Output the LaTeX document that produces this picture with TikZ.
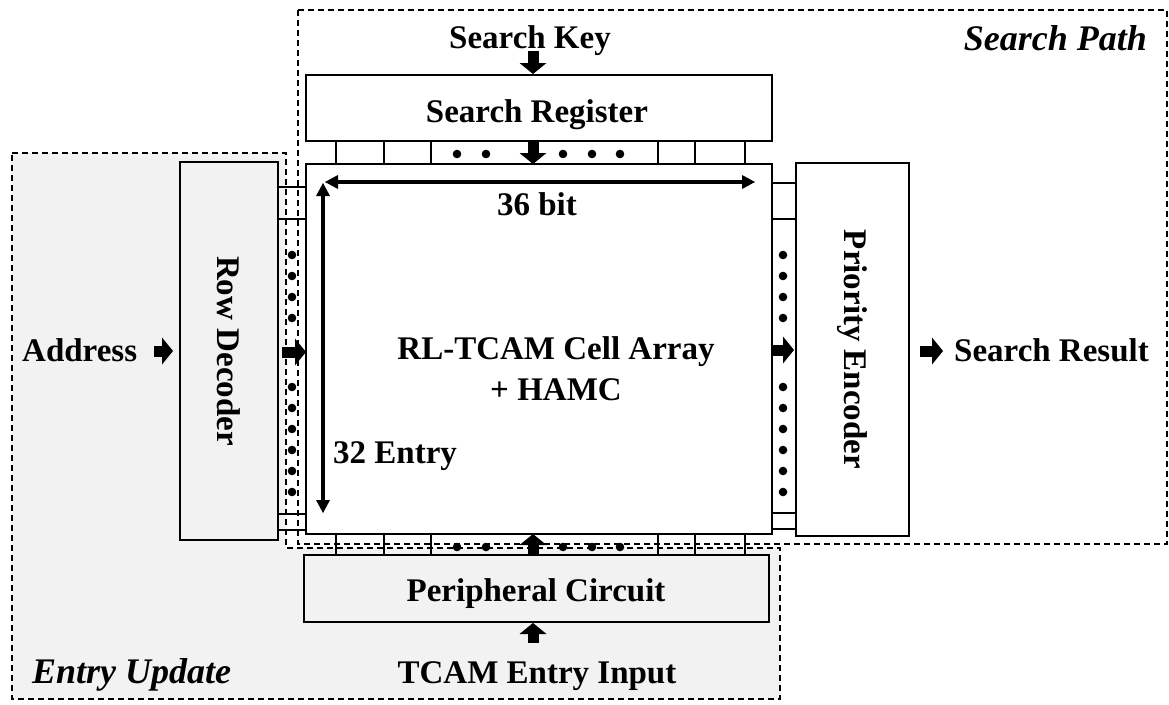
\documentclass[tikz,border=0pt]{standalone}
\usepackage{fontspec}
\setmainfont{Liberation Serif}
\usetikzlibrary{arrows.meta}
\definecolor{bggray}{HTML}{F2F2F2}
\begin{document}
\begin{tikzpicture}[x=1pt,y=-1pt,
  box/.style={draw, line width=1.4pt, inner sep=0pt, outer sep=0pt},
  region/.style={draw, line width=1.2pt, dash pattern=on 6pt off 4pt},
  lbl/.style={font=\bfseries\fontsize{33}{40}\selectfont, inner sep=0pt},
  ilbl/.style={font=\bfseries\itshape\fontsize{36}{42}\selectfont, inner sep=0pt},
  tick/.style={line width=1.2pt},
  blockarrow/.style={line width=11pt, -{Triangle[length=11pt,width=27pt,line width=0pt]}},
  dimarrow/.style={line width=4pt, {Triangle[length=13pt,width=14pt,line width=0pt]}-{Triangle[length=13pt,width=14pt,line width=0pt]}},
  dot/.style={fill=black}
]
\useasboundingbox (0,0) rectangle (1169,704);
\fill[white] (0,0) rectangle (1169,704);

% regions
\draw[region, fill=bggray] (12,153) -- (286,153) -- (286,548) -- (780,548) -- (780,699) -- (12,699) -- cycle;
\draw[region, fill=white] (298,10) rectangle (1167,544);

% blocks
\node[box, fill=white, minimum width=466pt, minimum height=66pt] (sreg) at (539,108) {};
\node[box, fill=white, minimum width=466pt, minimum height=370pt] (array) at (539,349) {};
\node[box, fill=bggray, minimum width=98pt, minimum height=378pt] (rowdec) at (229,351) {};
\node[box, fill=white, minimum width=113pt, minimum height=373pt] (prienc) at (852.5,349.5) {};
\node[box, fill=bggray, minimum width=465pt, minimum height=67pt] (periph) at (536.5,588.5) {};

% labels
\node[lbl, anchor=base] (skey) at (530,48) {Search Key};
\node[lbl, anchor=base] (sregt) at (537,122) {Search Register};
\node[lbl, anchor=base] (arr1) at (556,359) {RL-TCAM Cell Array};
\node[lbl, anchor=base] (arr2) at (556,400) {+ HAMC};
\node[lbl, anchor=base] (bits) at (537,215) {36 bit};
\node[lbl, anchor=base west] (ent) at (333,463) {32 Entry};
\node[lbl, anchor=base] (perit) at (536,601) {Peripheral Circuit};
\node[lbl, anchor=base] (tin) at (537,683) {TCAM Entry Input};
\node[lbl, anchor=base west] (sres) at (954,361) {Search Result};
\node[lbl, anchor=base west] (addr) at (22,361) {Address};
\node[lbl, rotate=-90] (rowt) at (rowdec.center) {Row Decoder};
\node[lbl, rotate=-90] (prit) at (prienc.center) {Priority Encoder};
\node[ilbl, anchor=base east] (spath) at (1147,50) {Search Path};
\node[ilbl, anchor=base west] (eupd) at (32,683) {Entry Update};

% bus ticks
\foreach \x in {336,384,431,658,695,745} {
  \draw[tick] (\x,0 |- sreg.south) -- (\x,0 |- array.north);
  \draw[tick] (\x,0 |- array.south) -- (\x,0 |- periph.north);
}
\foreach \y in {187,219,514,530}
  \draw[tick] (rowdec.east |- 0,\y) -- (array.west |- 0,\y);
\foreach \y in {183,219,513,529}
  \draw[tick] (array.east |- 0,\y) -- (prienc.west |- 0,\y);

% dots
\foreach \x in {457,486,563,592,620} {
  \fill (\x,154) circle (4.3pt);
  \fill (\x,547) circle (4.3pt);
}
\foreach \y in {255,276,297,318,387,408,429,450,471,492} {
  \fill (292,\y) circle (4.3pt);
  \fill (783,\y) circle (4.3pt);
}

% block arrows
\coordinate (cx) at (533,0);
\draw[blockarrow] ([yshift=-3pt]skey.base -| cx) -- ([yshift=1pt]cx |- sreg.north);
\draw[blockarrow] (cx |- sreg.south) -- (cx |- array.north);
\draw[blockarrow] (cx |- periph.north) -- (cx |- array.south);
\draw[blockarrow] ([yshift=40pt]cx |- tin.base) -- ([yshift=-1pt]cx |- periph.south);
\draw[blockarrow] ([xshift=4pt]rowdec.east |- 0,352) -- (array.west |- 0,352);
\draw[blockarrow] (array.east |- 0,350) -- ([xshift=-2pt]prienc.west |- 0,350);
\draw[blockarrow] ([xshift=17pt]addr.east |- 0,351) -- ([xshift=-7pt]rowdec.west |- 0,351);
\draw[blockarrow] ([xshift=11pt]prienc.east |- 0,351) -- ([xshift=-11pt]sres.west |- 0,351);

% dimension arrows
\draw[dimarrow] (325,182) -- (755,182);
\draw[dimarrow] (323,183) -- (323,513);
\end{tikzpicture}
\end{document}
